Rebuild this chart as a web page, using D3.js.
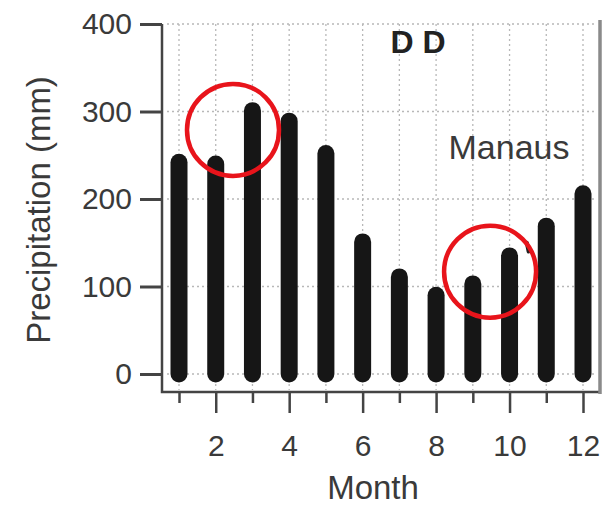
<!DOCTYPE html>
<html>
<head>
<meta charset="utf-8">
<script src="https://cdn.jsdelivr.net/npm/d3@7"></script>
<style>
  html, body { margin: 0; padding: 0; background: #fff; }
  svg { display: block; font-family: "Liberation Sans", Arial, Helvetica, sans-serif; }
</style>
</head>
<body>
<svg id="chart" width="609" height="505"></svg>
<script>
// Monthly precipitation at Manaus (mm)
const months = [1, 2, 3, 4, 5, 6, 7, 8, 9, 10, 11, 12];
const precip = [242, 240, 301, 289, 252, 151, 111, 90, 103, 135, 169, 206];
const yTicks = [0, 100, 200, 300, 400];
const xMajorTicks = [2, 4, 6, 8, 10, 12];
const xMinorTicks = [1, 3, 5, 7, 9, 11];
// highlighted regions: [month, mm]
const highlights = [[2.47, 279], [9.47, 117]];

const svg = d3.select("#chart");
const x = d3.scaleLinear().domain([1, 12]).range([179, 583]);
const y = d3.scaleLinear().domain([0, 400]).range([374, 24]);

const frameLeft = 162, frameRight = 600, frameBottom = 392;
const textColor = "#3a3a3a";

// dotted grid
const grid = svg.append("g").attr("stroke", "#b8b8b8").attr("stroke-width", 1.3)
  .attr("stroke-dasharray", "2,3");
grid.selectAll("line.h").data(yTicks).join("line").attr("class", "h")
  .attr("x1", frameLeft + 5).attr("x2", frameRight - 3)
  .attr("y1", d => y(d)).attr("y2", d => y(d));
grid.selectAll("line.v").data(months).join("line").attr("class", "v")
  .attr("x1", d => x(d)).attr("x2", d => x(d))
  .attr("y1", y(400)).attr("y2", frameBottom - 2);

// bars as thick rounded strokes
svg.append("g").selectAll("line").data(months).join("line")
  .attr("x1", d => x(d)).attr("x2", d => x(d))
  .attr("y1", y(0)).attr("y2", (d, i) => y(precip[i]))
  .attr("stroke", "#161616").attr("stroke-width", 17).attr("stroke-linecap", "round");

// frame
svg.append("path")
  .attr("d", `M${frameLeft},${y(400)}V${frameBottom}H${frameRight}`)
  .attr("fill", "none").attr("stroke", "#444").attr("stroke-width", 2.5);
svg.append("line")
  .attr("x1", frameRight).attr("x2", frameRight).attr("y1", 20).attr("y2", frameBottom + 2)
  .attr("stroke", "#8a8a8a").attr("stroke-width", 3.5);

// y axis
const yAxis = svg.append("g").attr("transform", `translate(${frameLeft},0)`)
  .call(d3.axisLeft(y).tickValues(yTicks).tickSize(22).tickSizeOuter(0).tickPadding(8));
yAxis.select(".domain").remove();
yAxis.selectAll(".tick line").attr("stroke", "#444").attr("stroke-width", 3);
yAxis.selectAll(".tick text").attr("fill", textColor).attr("font-size", 30)
  .attr("font-family", "Liberation Sans, Arial, sans-serif");

// x axis: short ticks on odd months, long labelled ticks on even months
const xMinor = svg.append("g").attr("transform", `translate(0,${frameBottom})`)
  .call(d3.axisBottom(x).tickValues(xMinorTicks).tickSize(11).tickFormat(""));
xMinor.select(".domain").remove();
xMinor.selectAll(".tick line").attr("stroke", "#444").attr("stroke-width", 2.5);

const xMajor = svg.append("g").attr("transform", `translate(0,${frameBottom})`)
  .call(d3.axisBottom(x).tickValues(xMajorTicks).tickSize(21).tickPadding(22));
xMajor.select(".domain").remove();
xMajor.selectAll(".tick line").attr("stroke", "#444").attr("stroke-width", 2.5);
xMajor.selectAll(".tick text").attr("fill", textColor).attr("font-size", 30)
  .attr("font-family", "Liberation Sans, Arial, sans-serif");

// axis titles
svg.append("text").attr("x", 373).attr("y", 499).attr("text-anchor", "middle")
  .attr("font-size", 33).attr("fill", textColor).text("Month");
svg.append("text").attr("transform", "translate(50,210) rotate(-90)")
  .attr("text-anchor", "middle").attr("font-size", 33).attr("fill", textColor)
  .text("Precipitation (mm)");

// panel labels
svg.append("text").attr("x", 418).attr("y", 53).attr("text-anchor", "middle")
  .attr("font-size", 32).attr("font-weight", "bold").attr("fill", "#222").text("D D");
svg.append("text").attr("x", 509).attr("y", 159).attr("text-anchor", "middle")
  .attr("font-size", 34).attr("fill", textColor).text("Manaus");

// small stray stroke beside October
svg.append("line")
  .attr("x1", x(10.47)).attr("x2", x(10.52)).attr("y1", y(150)).attr("y2", y(140))
  .attr("stroke", "#222").attr("stroke-width", 4).attr("stroke-linecap", "round");

// red highlight circles
svg.append("g").selectAll("circle").data(highlights).join("circle")
  .attr("cx", d => x(d[0])).attr("cy", d => y(d[1])).attr("r", 46)
  .attr("fill", "none").attr("stroke", "#e8141b").attr("stroke-width", 4.5);
</script>
</body>
</html>
